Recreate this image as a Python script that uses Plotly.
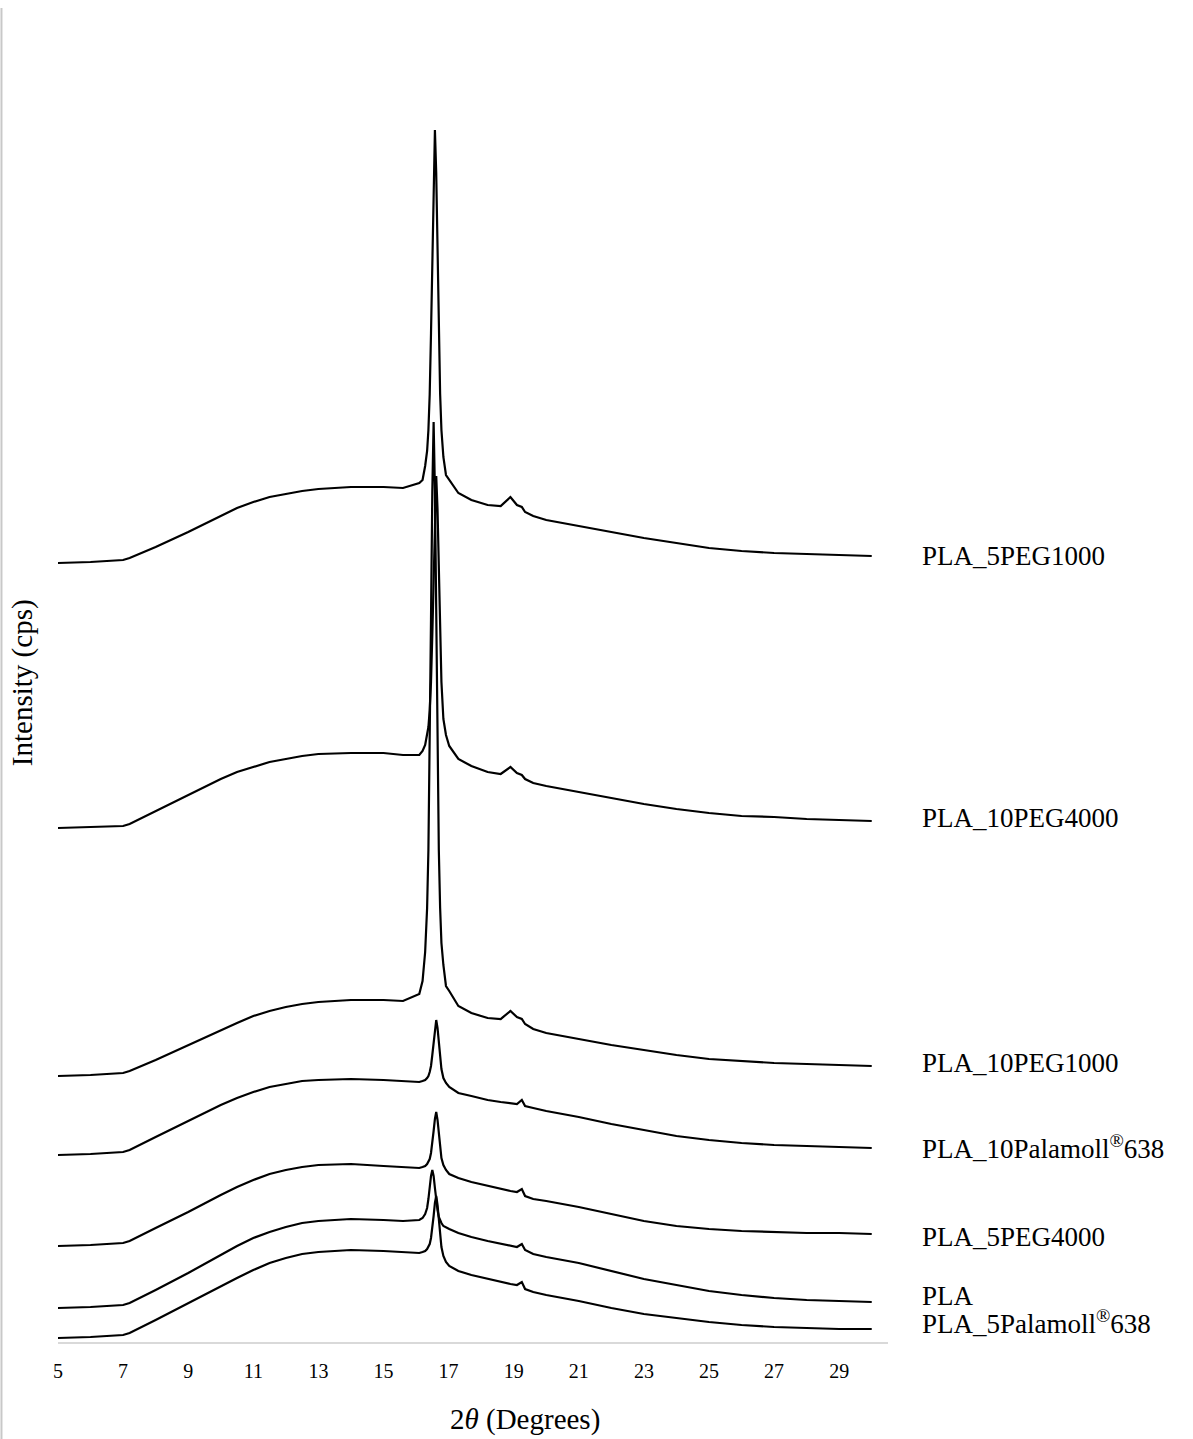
import plotly.graph_objects as go

# 2-theta sampling positions (degrees)
two_theta = [5.0, 6.0, 7.0, 7.2, 8.0, 9.0, 10.0, 10.5, 11.0, 11.5, 12.0, 12.5, 13.0,
             14.0, 15.0, 15.6,
             16.1, 16.2, 16.28, 16.34, 16.38, 16.42, 16.46, 16.5, 16.54, 16.58, 16.62,
             16.66, 16.7, 16.74, 16.78, 16.84, 16.92, 17.02,
             17.3, 17.7, 18.2, 18.6, 18.9, 19.1, 19.25, 19.35, 19.6,
             20.0, 21.0, 22.0, 23.0, 24.0, 25.0, 26.0, 27.0, 28.0, 29.0, 30.0]

# stacked diffractograms (intensity, cps, offset for display)
pla_5peg1000 = [779, 780, 782, 784, 795, 810, 826, 834, 840, 845, 848, 851, 853,
                855, 855, 854,
                859, 862, 876, 891, 912, 948, 1009, 1091, 1169, 1212, 1169,
                1091, 1009, 948, 912, 885, 867, 862,
                849, 842, 837, 836, 845, 837, 835, 830, 826,
                822, 816, 810, 804, 799, 794, 791, 789, 788, 787, 786]
pla_10peg4000 = [514, 515, 516, 518, 531, 547, 563, 570, 575, 580, 583, 586, 588,
                 589, 589, 587,
                 587, 591, 597, 607, 615, 632, 660, 707, 771, 833, 866,
                 833, 771, 707, 660, 623, 607, 596,
                 583, 576, 570, 568, 575, 569, 567, 563, 559,
                 556, 550, 544, 538, 533, 529, 526, 525, 523, 522, 521]
pla_10peg1000 = [266, 267, 269, 271, 282, 297, 312, 319, 326, 331, 335, 338, 340,
                 342, 342, 341,
                 348, 361, 390, 434, 492, 590, 723, 851, 920, 851, 723,
                 590, 492, 434, 399, 377, 356, 351,
                 336, 329, 324, 323, 331, 325, 323, 318, 313,
                 309, 303, 297, 292, 287, 283, 281, 279, 278, 277, 276]
pla_10palamoll638 = [187, 188, 190, 192, 205, 221, 237, 244, 250, 255, 258, 261, 262,
                     263, 262, 261,
                     260, 261, 262, 264, 266, 270, 276, 287, 301, 315, 322,
                     314, 299, 284, 273, 264, 259, 255,
                     249, 246, 242, 240, 239, 238, 242, 236, 234,
                     231, 225, 218, 212, 206, 202, 199, 197, 196, 195, 194]
pla_5peg4000 = [96, 97, 99, 101, 114, 130, 147, 155, 162, 168, 172, 175, 177,
                178, 176, 175,
                174, 175, 176, 178, 180, 183, 189, 198, 211, 223, 230,
                222, 208, 194, 184, 177, 172, 168,
                164, 160, 156, 153, 151, 150, 153, 146, 143,
                141, 135, 128, 121, 116, 113, 111, 110, 109, 109, 108]
pla = [34, 35, 37, 39, 52, 69, 87, 96, 104, 110, 115, 119, 121,
       123, 122, 121,
       122, 124, 128, 134, 143, 155, 166, 172, 166, 154, 142,
       132, 125, 121, 119, 116, 115, 113,
       109, 105, 101, 98, 96, 95, 98, 92, 88,
       85, 79, 71, 63, 57, 51, 47, 44, 42, 41, 40]
pla_5palamoll638 = [4, 5, 7, 9, 22, 39, 56, 64, 72, 79, 84, 88, 90,
                    92, 91, 90,
                    89, 90, 91, 93, 95, 98, 104, 113, 126, 139, 146,
                    137, 122, 106, 95, 86, 80, 76,
                    71, 67, 63, 60, 58, 57, 60, 53, 50,
                    47, 41, 34, 28, 24, 20, 17, 15, 14, 13, 13]

sample_names = ["PLA_5PEG1000", "PLA_10PEG4000", "PLA_10PEG1000",
                "PLA_10Palamoll<sup>®</sup>638", "PLA_5PEG4000", "PLA",
                "PLA_5Palamoll<sup>®</sup>638"]
series = [pla_5peg1000, pla_10peg4000, pla_10peg1000, pla_10palamoll638,
          pla_5peg4000, pla, pla_5palamoll638]
# small vertical nudges so the end labels do not collide
label_nudge = [0, 3, 3, 1, -3, 6, 7]

x_ticks = [5, 7, 9, 11, 13, 15, 17, 19, 21, 23, 25, 27, 29]

serif = "Liberation Serif, Times New Roman, serif"

fig = go.Figure()
for name, ys in zip(sample_names, series):
    fig.add_trace(go.Scatter(
        x=two_theta, y=ys, mode="lines", name=name,
        line=dict(color="#000000", width=2.2, shape="linear"),
        showlegend=False, hoverinfo="skip",
    ))

annotations = []
for name, ys, dy in zip(sample_names, series, label_nudge):
    annotations.append(dict(
        x=1.0386, y=ys[-1] + dy, xref="paper", yref="y", text=name,
        showarrow=False, xanchor="left", yanchor="middle",
        font=dict(family=serif, size=27, color="#000000"),
    ))

annotations.append(dict(
    x=0.5627, y=-0.0586, xref="paper", yref="paper",
    text="2<i>θ</i> (Degrees)", showarrow=False,
    xanchor="center", yanchor="middle",
    font=dict(family=serif, size=29, color="#000000"),
))
annotations.append(dict(
    x=-0.042, y=0.4955, xref="paper", yref="paper",
    text="Intensity (cps)", showarrow=False, textangle=-90,
    xanchor="center", yanchor="middle",
    font=dict(family=serif, size=29, color="#000000"),
))

fig.update_layout(
    width=1193, height=1439, autosize=False,
    margin=dict(l=58, r=305, t=12, b=97, pad=0),
    paper_bgcolor="#ffffff", plot_bgcolor="#ffffff",
    annotations=annotations,
    shapes=[dict(type="line", xref="paper", yref="paper",
                 x0=-0.0681, x1=-0.0681, y0=-0.08, y1=1.003,
                 line=dict(color="#c8c8c8", width=2))],
    xaxis=dict(
        range=[5, 30.5], tickvals=x_ticks, ticktext=[str(t) for t in x_ticks],
        showgrid=False, zeroline=False, showline=True,
        linecolor="#d9d9d9", linewidth=2, ticks="",
        ticklabelstandoff=10,
        tickfont=dict(family=serif, size=20, color="#000000"),
    ),
    yaxis=dict(range=[0, 1330], visible=False, showgrid=False, zeroline=False),
)

fig.write_html("out.html")
